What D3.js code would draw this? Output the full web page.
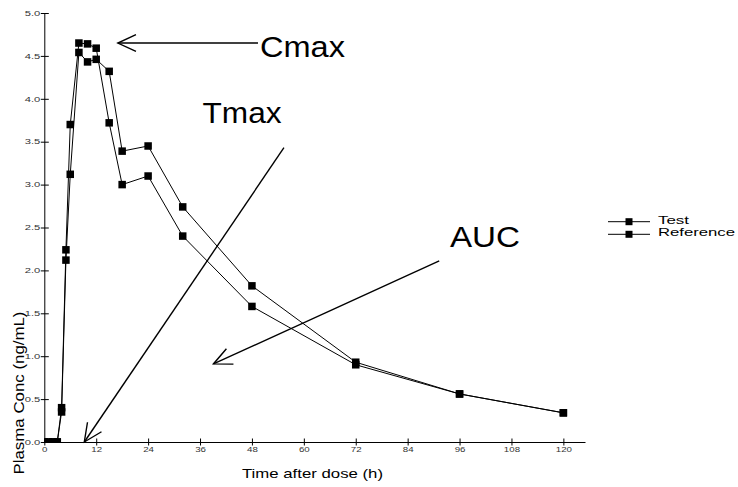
<!DOCTYPE html>
<html>
<head>
<meta charset="utf-8">
<script src="https://cdn.jsdelivr.net/npm/d3@7"></script>
<style>
  body { margin: 0; background: #fff; }
  svg { display: block; font-family: Arial, "Liberation Sans", sans-serif; }
</style>
</head>
<body>
<svg id="chart" width="738" height="487"></svg>
<script>
// sampling times (h) and mean concentrations (ng/mL)
var times = [0, 1, 2, 3, 4, 5, 6, 8, 10, 12, 15, 18, 24, 32, 48, 72, 96, 120];
var testConc = [0, 0, 0, 0, 0.35, 2.12, 3.12, 4.54, 4.43, 4.46, 4.32, 3.39, 3.45, 2.74, 1.82, 0.93, 0.56, 0.34];
var refConc  = [0, 0, 0, 0, 0.40, 2.24, 3.70, 4.65, 4.64, 4.59, 3.72, 3.00, 3.10, 2.40, 1.58, 0.90, 0.56, 0.34];
var seriesNames = ["Test", "Reference"];
var xTicks = [0, 12, 24, 36, 48, 60, 72, 84, 96, 108, 120];
var yTicks = [0, 0.5, 1, 1.5, 2, 2.5, 3, 3.5, 4, 4.5, 5];

// annotations: label + arrow [tail, tip] in data units
var annotations = [
  {label: "Cmax", tx: 260, ty: 56.5, len: 85, from: [49.4, 4.65], to: [17.0, 4.65]},
  {label: "Tmax", tx: 202.5, ty: 123, len: 79, from: [55.4, 3.43], to: [9.25, 0]},
  {label: "AUC",  tx: 450, ty: 246.5, len: 70, from: [91.3, 2.11], to: [39.1, 0.91]}
];

var svg = d3.select("#chart");

var x = d3.scaleLinear().domain([0, 125]).range([44.3, 585]);
var y = d3.scaleLinear().domain([0, 5]).range([442, 13]);

svg.append("defs").append("clipPath").attr("id", "plot")
  .append("rect")
    .attr("x", x(0)).attr("y", y(5) - 10)
    .attr("width", x(125) - x(0)).attr("height", y(0) - y(5) + 10);

// y axis
var yAxis = svg.append("g")
    .attr("transform", "translate(" + x(0) + ",0)")
    .call(d3.axisLeft(y).tickValues(yTicks).tickFormat(d3.format(".1f")).tickSizeOuter(0));
yAxis.select(".domain").attr("stroke", "#000");
yAxis.selectAll(".tick line").attr("x1", -3.5).attr("x2", 4.5).attr("stroke", "#000");
yAxis.selectAll(".tick text")
    .attr("x", -4).attr("dy", "0.32em")
    .attr("font-size", 7).attr("fill", "#333")
    .attr("textLength", 15.5).attr("lengthAdjust", "spacingAndGlyphs");

// x axis
var xAxis = svg.append("g")
    .attr("transform", "translate(0," + y(0) + ")")
    .call(d3.axisBottom(x).tickValues(xTicks).tickSizeOuter(0));
xAxis.select(".domain").attr("stroke", "#000");
xAxis.selectAll(".tick line").attr("y1", -3.5).attr("y2", 3.5).attr("stroke", "#000");
xAxis.selectAll(".tick text")
    .attr("y", 10).attr("dy", 0)
    .attr("font-size", 7).attr("fill", "#333")
    .attr("textLength", function(d) { return String(d).length * 5.4; })
    .attr("lengthAdjust", "spacingAndGlyphs");

// axis titles
svg.append("text")
    .attr("x", 242).attr("y", 478)
    .attr("font-size", 13)
    .attr("textLength", 141).attr("lengthAdjust", "spacingAndGlyphs")
    .text("Time after dose (h)");

svg.append("text")
    .attr("transform", "translate(23.5,393) rotate(-90)")
    .attr("text-anchor", "middle")
    .attr("font-size", 14)
    .attr("textLength", 163).attr("lengthAdjust", "spacingAndGlyphs")
    .text("Plasma Conc (ng/mL)");

// data
var series = [testConc, refConc].map(function(vals, i) {
  return {name: seriesNames[i], values: times.map(function(t, j) { return {t: t, c: vals[j]}; })};
});

var line = d3.line().x(function(d) { return x(d.t); }).y(function(d) { return y(d.c); });
var sq = 7.5;

var plot = svg.append("g").attr("clip-path", "url(#plot)");
series.forEach(function(s) {
  plot.append("path")
      .datum(s.values)
      .attr("fill", "none")
      .attr("stroke", "#000")
      .attr("stroke-width", 1)
      .attr("d", line);
  plot.selectAll(null)
      .data(s.values)
      .enter().append("rect")
        .attr("x", function(d) { return x(d.t) - sq / 2; })
        .attr("y", function(d) { return y(d.c) - sq / 2; })
        .attr("width", sq).attr("height", sq)
        .attr("fill", "#000");
});

// annotations
annotations.forEach(function(a) {
  var x1 = x(a.from[0]), y1 = y(a.from[1]), x2 = x(a.to[0]), y2 = y(a.to[1]);
  var ang = Math.atan2(y1 - y2, x1 - x2), L = 20, spread = 25 * Math.PI / 180;
  var g = svg.append("g").attr("stroke", "#000").attr("stroke-width", 1.4).attr("fill", "none");
  g.append("line").attr("x1", x1).attr("y1", y1).attr("x2", x2).attr("y2", y2);
  g.append("path").attr("d",
      "M" + (x2 + L * Math.cos(ang + spread)) + "," + (y2 + L * Math.sin(ang + spread)) +
      "L" + x2 + "," + y2 +
      "L" + (x2 + L * Math.cos(ang - spread)) + "," + (y2 + L * Math.sin(ang - spread)));
  svg.append("text")
      .attr("x", a.tx).attr("y", a.ty)
      .attr("font-size", 29)
      .attr("textLength", a.len).attr("lengthAdjust", "spacingAndGlyphs")
      .text(a.label);
});

// legend
var legend = svg.append("g")
  .selectAll("g")
  .data(seriesNames)
  .enter().append("g")
    .attr("transform", function(d, i) { return "translate(608," + (221.7 + i * 12.6) + ")"; });

legend.append("line").attr("x1", 0).attr("x2", 42).attr("stroke", "#000");
legend.append("rect").attr("x", 21 - 3.5).attr("y", -3.5).attr("width", 7).attr("height", 7).attr("fill", "#000");
legend.append("text")
    .attr("x", 50).attr("y", 1.8)
    .attr("font-size", 10.5)
    .attr("textLength", function(d) { return d === "Test" ? 31 : 77; })
    .attr("lengthAdjust", "spacingAndGlyphs")
    .text(function(d) { return d; });
</script>
</body>
</html>
